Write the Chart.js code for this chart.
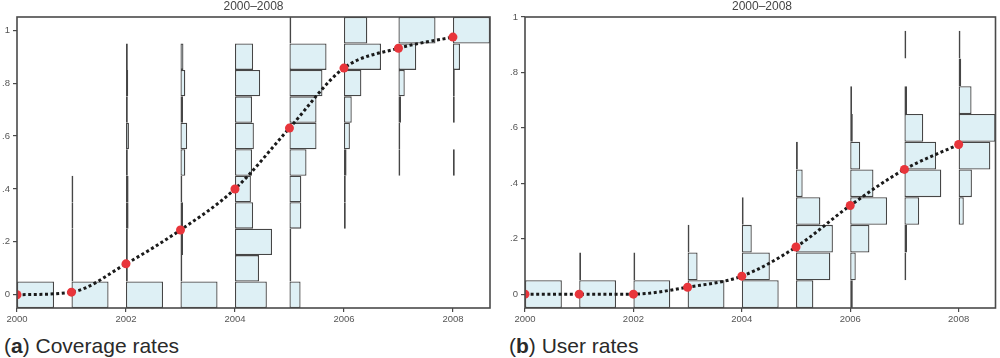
<!DOCTYPE html>
<html>
<head>
<meta charset="utf-8">
<script src="https://cdn.jsdelivr.net/npm/chart.js@4.4.1/dist/chart.umd.min.js"></script>
<style>
  html, body { margin: 0; padding: 0; background: #fff; }
  body { width: 1000px; height: 358px; position: relative; overflow: hidden; font-family: "Liberation Sans", Arial, sans-serif; }
  .panel { position: absolute; top: 0; width: 500px; height: 330px; }
  .ttl { position: absolute; top: 0px; font-size: 12px; line-height: 12px; color: #444; text-align: center; }
  .cap { position: absolute; top: 335px; font-size: 21px; line-height: 21px; color: #2a2a2a; white-space: nowrap; }
</style>
</head>
<body>
<div class="panel" style="left:0"><canvas id="ca" width="500" height="330"></canvas></div>
<div class="panel" style="left:500px"><canvas id="cb" width="500" height="330"></canvas></div>
<div class="ttl" style="left:17px;width:473px">2000–2008</div>
<div class="ttl" style="left:525px;width:474px">2000–2008</div>
<div class="cap" style="left:4px">(<b>a</b>) Coverage rates</div>
<div class="cap" style="left:509px">(<b>b</b>) User rates</div>
<script>
// ---- data ----
const years = [2000, 2001, 2002, 2003, 2004, 2005, 2006, 2007, 2008];
const binCenters = [0, 0.1, 0.2, 0.3, 0.4, 0.5, 0.6, 0.7, 0.8, 0.9, 1.0];
const coverageMeans = [0, 0.01, 0.117, 0.245, 0.40, 0.63, 0.857, 0.932, 0.974];
const userMeans = [0, 0, 0, 0.025, 0.065, 0.17, 0.32, 0.45, 0.54];
// relative bin heights (1 = modal bin of that year)
const coverageBins = [
  [1, 0, 0, 0, 0, 0, 0, 0, 0, 0, 0],
  [1, .05, .05, .05, .05, 0, 0, 0, 0, 0, 0],
  [1, .05, .05, .07, .07, .05, .08, .05, .06, .05, 0],
  [1, .05, .07, .07, .05, .13, .18, .07, .13, .08, 0],
  [.86, .65, 1, .49, .43, .46, .51, .46, .68, .49, 0],
  [.30, .05, .05, .32, .32, .46, .73, .73, .89, 1, .05],
  [0, 0, 0, .05, .05, .07, .16, .21, .47, 1, .63],
  [0, 0, 0, 0, 0, .05, .05, .07, .17, .48, 1],
  [0, 0, 0, 0, 0, .05, 0, .05, .05, .19, 1]
];
const userBins = [
  [1, 0, 0, 0, 0, 0, 0, 0, 0, 0, 0],
  [1, .05, 0, 0, 0, 0, 0, 0, 0, 0, 0],
  [1, .05, 0, 0, 0, 0, 0, 0, 0, 0, 0],
  [1, .27, .05, 0, 0, 0, 0, 0, 0, 0, 0],
  [1, .76, .27, .05, 0, 0, 0, 0, 0, 0, 0],
  [.47, .93, 1, .66, .18, .05, 0, 0, 0, 0, 0],
  [.07, .15, .52, 1, .63, .27, .07, .05, 0, 0, 0],
  [0, .05, .07, .40, 1, .86, .51, .07, 0, .05, 0],
  [0, 0, 0, .14, .36, .86, 1, .35, .07, .05, 0]
];
const xTickValues = [2000, 2002, 2004, 2006, 2008];
const xTickLabels = ['2000', '2002', '2004', '2006', '2008'];
const yTickValues = [0, 0.2, 0.4, 0.6, 0.8, 1];
const yTickLabels = ['0', '.2', '.4', '.6', '.8', '1'];

// ---- style / layout ----
const HIST_WIDTH = 0.68;   // years spanned by a modal bin
const BIN_SIZE = 0.1;
const CANVAS_H = 330, PAD_TOP = 17, XAXIS_H = 22;
const PLOT_H = CANVAS_H - PAD_TOP - XAXIS_H;
const FILL = '#def0f5';
const EDGE = '#464646';
const AXIS = '#4a4a4a';
const TICKFONT = { family: '"Liberation Sans", Arial, sans-serif', size: 9.5 };

const framePlugin = {
  id: 'frame',
  afterDatasetsDraw(chart) {
    const a = chart.chartArea, ctx = chart.ctx;
    ctx.save();
    ctx.strokeStyle = AXIS;
    ctx.lineWidth = 1.6;
    ctx.strokeRect(a.left, a.top, a.right - a.left, a.bottom - a.top);
    ctx.restore();
  }
};

function histDatasets(bins, thickness) {
  return years.map((yr, k) => ({
    type: 'bar',
    indexAxis: 'y',
    grouped: false,
    order: 1,
    data: bins[k].map((v, i) => v > 0 ? { y: binCenters[i], x: [yr, yr + v * HIST_WIDTH] } : null).filter(Boolean),
    backgroundColor: FILL,
    borderColor: EDGE,
    borderWidth: 1.3,
    borderSkipped: false,
    inflateAmount: 0,
    barThickness: thickness,
    barPercentage: 1,
    categoryPercentage: 1
  }));
}

function makeChart(id, bins, means, yMin, yMax, yWidth, padRight) {
  const thickness = PLOT_H * BIN_SIZE / (yMax - yMin);
  const datasets = histDatasets(bins, thickness);
  datasets.push({
    type: 'line',
    order: 0,
    data: years.map((yr, i) => ({ x: yr, y: means[i] })),
    borderColor: '#1a1a1a',
    borderWidth: 3,
    borderDash: [3, 2.6],
    cubicInterpolationMode: 'monotone',
    pointRadius: 4.5,
    pointBackgroundColor: '#e8353b',
    pointBorderWidth: 0,
    fill: false
  });
  return new Chart(document.getElementById(id), {
    type: 'bar',
    data: { datasets },
    plugins: [framePlugin],
    options: {
      responsive: false,
      devicePixelRatio: 1,
      animation: false,
      layout: { padding: { left: 0, right: padRight, top: PAD_TOP, bottom: 0 } },
      plugins: { legend: { display: false }, tooltip: { enabled: false }, title: { display: false } },
      scales: {
        x: {
          type: 'linear',
          offset: false,
          grace: 0,
          min: 2000,
          max: 2008.68,
          afterBuildTicks: s => { s.ticks = xTickValues.map(v => ({ value: v })); },
          afterFit: s => { s.height = XAXIS_H; },
          ticks: {
            callback: (v) => xTickLabels[xTickValues.indexOf(v)],
            font: TICKFONT, color: '#555', padding: 2, maxRotation: 0, autoSkip: false
          },
          grid: { display: true, offset: false, drawOnChartArea: false, drawTicks: true, tickLength: 4, color: AXIS, lineWidth: 1.2 },
          border: { display: false }
        },
        y: {
          type: 'linear',
          offset: false,
          grace: 0,
          min: yMin,
          max: yMax,
          afterBuildTicks: s => { s.ticks = yTickValues.map(v => ({ value: v })); },
          afterFit: s => { s.width = yWidth; },
          ticks: {
            callback: (v) => yTickLabels[yTickValues.indexOf(v)],
            font: TICKFONT, color: '#555', padding: 3, autoSkip: false
          },
          grid: { display: true, offset: false, drawOnChartArea: false, drawTicks: true, tickLength: 4, color: AXIS, lineWidth: 1.2 },
          border: { display: false }
        }
      }
    }
  });
}

makeChart('ca', coverageBins, coverageMeans, -0.05, 1.05, 17, 10);
makeChart('cb', userBins, userMeans, -0.05, 1.0, 25, 1);
</script>
</body>
</html>
